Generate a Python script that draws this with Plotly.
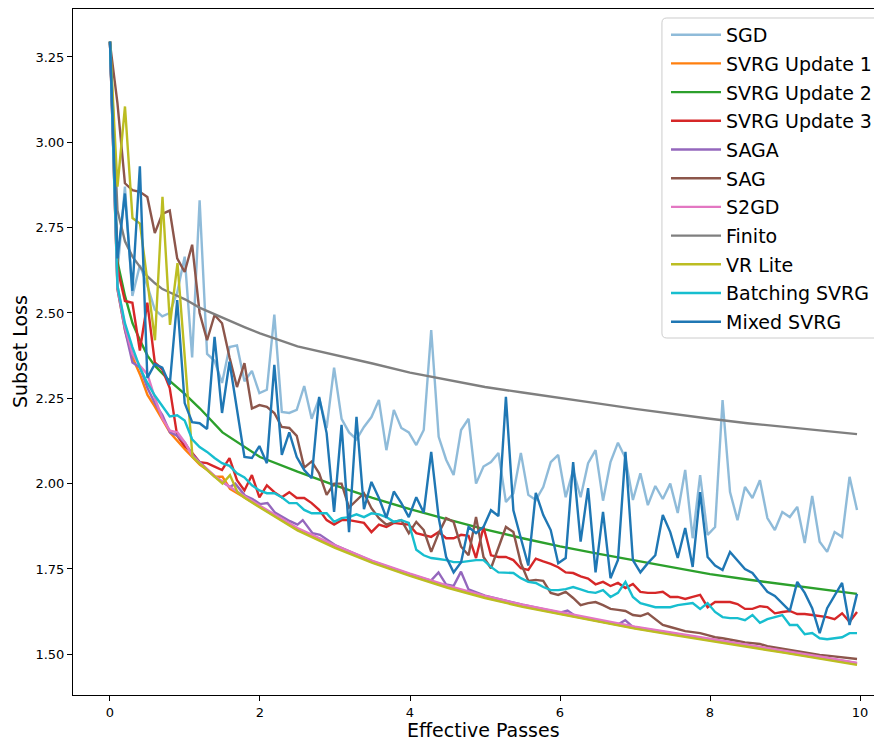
import plotly.graph_objects as go

# ---- shared x grid (effective passes) for the sampled series ----
passes = [round(i * 0.0996, 4) for i in range(101)]

sgd = [3.295, 2.62, 2.87, 2.55, 2.64, 2.58, 2.51, 2.49, 2.50, 2.56,
       2.665, 2.37, 2.83, 2.38, 2.36, 2.295, 2.40, 2.405, 2.30, 2.33,
       2.265, 2.275, 2.495, 2.21, 2.207, 2.216, 2.286, 2.19, 2.25, 2.163,
       2.34, 2.19, 2.15, 2.13, 2.166, 2.195, 2.245, 2.098, 2.216, 2.163,
       2.15, 2.113, 2.157, 2.45, 2.137, 2.07, 2.025, 2.157, 2.19, 2.0,
       2.05, 2.063, 2.09, 1.946, 1.972, 2.09, 1.967, 1.952, 1.99, 2.063,
       2.084, 1.96, 2.04, 1.96, 2.06, 2.098, 1.95, 2.063, 2.12, 2.075,
       1.952, 2.03, 1.937, 1.993, 1.955, 2.0, 1.914, 2.04, 1.84, 2.025,
       1.85, 1.873, 2.245, 1.975, 1.893, 1.99, 1.958, 2.01, 1.899, 1.864,
       1.917, 1.902, 1.932, 1.826, 1.964, 1.83, 1.80, 1.858, 1.844, 2.02,
       1.923]

svrg3 = [3.295, 2.63, 2.535, 2.53, 2.39, 2.53, 2.355, 2.335, 2.28, 2.14,
         2.11, 2.09, 2.063, 2.06, 2.05, 2.04, 2.075, 2.01, 1.98, 2.025,
         1.96, 1.995, 1.975, 1.96, 1.975, 1.958, 1.958, 1.943, 1.923, 1.893,
         1.88, 1.893, 1.893, 1.888, 1.885, 1.858, 1.88, 1.873, 1.885, 1.882,
         1.88, 1.855, 1.85, 1.844, 1.858, 1.84, 1.84, 1.85, 1.847, 1.782,
         1.873, 1.79, 1.785, 1.785, 1.776, 1.752, 1.747, 1.78, 1.772, 1.765,
         1.755, 1.74, 1.738, 1.728, 1.722, 1.705, 1.712, 1.70, 1.709, 1.694,
         1.706, 1.683, 1.68, 1.68, 1.683, 1.668, 1.668, 1.662, 1.668, 1.674,
         1.638, 1.653, 1.653, 1.653, 1.647, 1.633, 1.633, 1.641, 1.638, 1.62,
         1.624, 1.627, 1.618, 1.618, 1.615, 1.612, 1.609, 1.603, 1.62, 1.595,
         1.624]

sag = [3.29, 3.115, 2.88, 2.86, 2.855, 2.84, 2.734, 2.79, 2.80, 2.66,
       2.62, 2.70, 2.50, 2.42, 2.494, 2.47, 2.37, 2.283, 2.353, 2.22,
       2.23, 2.225, 2.207, 2.166, 2.163, 2.14, 2.047, 2.065, 2.03, 1.967,
       2.0, 2.0, 1.93, 1.95, 1.972, 1.928, 1.899, 1.88, 1.888, 1.893,
       1.855, 1.888, 1.864, 1.80, 1.855, 1.899, 1.888, 1.815, 1.79, 1.902,
       1.785, 1.752, 1.815, 1.873, 1.858, 1.767, 1.715, 1.718, 1.715, 1.68,
       1.674, 1.683, 1.665, 1.644, 1.65, 1.653, 1.644, 1.633, 1.63, 1.627,
       1.615, 1.612, 1.62, 1.603, 1.586, 1.58, 1.574, 1.568, 1.565, 1.562,
       1.556, 1.55, 1.547, 1.544, 1.539, 1.535, 1.533, 1.53, 1.524, 1.52,
       1.516, 1.512, 1.508, 1.505, 1.502, 1.498, 1.496, 1.493, 1.49, 1.488,
       1.486]

batching = [3.295, 2.58, 2.47, 2.40, 2.34, 2.295, 2.258, 2.228, 2.197, 2.20,
            2.185, 2.13, 2.107, 2.093, 2.075, 2.06, 2.052, 2.03, 2.018, 1.995,
            1.98, 1.972, 1.972, 1.96, 1.943, 1.943, 1.923, 1.913, 1.913, 1.913,
            1.888, 1.899, 1.902, 1.91, 1.902, 1.913, 1.91, 1.902, 1.888, 1.893,
            1.885, 1.806, 1.79, 1.782, 1.779, 1.776, 1.77, 1.77, 1.773, 1.776,
            1.776, 1.756, 1.74, 1.738, 1.738, 1.723, 1.712, 1.709, 1.697, 1.688,
            1.688, 1.691, 1.697, 1.69, 1.683, 1.68, 1.688, 1.668, 1.68, 1.712,
            1.668, 1.65, 1.644, 1.638, 1.638, 1.638, 1.644, 1.647, 1.65, 1.633,
            1.65, 1.624, 1.609, 1.606, 1.606, 1.60, 1.615, 1.592, 1.603, 1.609,
            1.615, 1.586, 1.586, 1.559, 1.562, 1.547, 1.544, 1.547, 1.55, 1.562,
            1.562]

mixed = [3.295, 2.66, 2.85, 2.565, 2.93, 2.31, 2.35, 2.34, 2.29, 2.538,
         2.236, 2.18, 2.177, 2.16, 2.43, 2.207, 2.357, 2.22, 2.078, 2.075,
         2.11, 2.06, 2.348, 2.084, 2.15, 2.078, 2.04, 2.016, 2.254, 2.148,
         1.917, 2.172, 1.858, 2.196, 1.925, 2.005, 1.958, 1.90, 1.977, 1.943,
         1.902, 1.96, 1.915, 2.093, 1.90, 1.785, 1.74, 1.77, 1.873, 1.855,
         1.873, 1.922, 1.905, 2.254, 1.922, 1.84, 1.76, 1.973, 1.908, 1.864,
         1.767, 1.782, 2.063, 1.83, 1.987, 1.74, 1.917, 1.723, 1.776, 2.093,
         1.776, 1.74, 1.767, 1.79, 1.908, 1.858, 1.782, 1.87, 1.756, 1.975,
         1.785, 1.76, 1.747, 1.80, 1.776, 1.75, 1.738, 1.712, 1.683, 1.671,
         1.65, 1.627, 1.712, 1.68, 1.635, 1.562, 1.635, 1.674, 1.709, 1.586,
         1.677]

# ---- smooth series (own sample points) ----
svrg1_x = [0, 0.1, 0.2, 0.3, 0.4, 0.5, 0.6, 0.8, 1.0, 1.2, 1.3, 1.4, 1.5, 1.6,
           2.0, 2.5, 3.0, 3.5, 4.0, 4.5, 5.0, 5.5, 6.0, 6.5, 7.0, 7.5, 8.0,
           8.5, 9.0, 9.5, 9.96]
svrg1_y = [3.295, 2.57, 2.45, 2.37, 2.32, 2.26, 2.225, 2.15, 2.10, 2.055, 2.04,
           2.02, 2.02, 1.985, 1.932, 1.866, 1.815, 1.77, 1.732, 1.697, 1.667,
           1.641, 1.619, 1.597, 1.577, 1.559, 1.542, 1.524, 1.506, 1.488, 1.471]

svrg2_x = [0, 0.1, 0.2, 0.3, 0.4, 0.5, 0.6, 0.8, 1.0, 1.2, 1.5, 2.0, 2.5, 3.0,
           3.5, 4.0, 4.5, 5.0, 5.5, 6.0, 6.5, 7.0, 7.5, 8.0, 8.5, 9.0, 9.5, 9.96]
svrg2_y = [3.295, 2.65, 2.55, 2.47, 2.42, 2.375, 2.345, 2.30, 2.262, 2.22,
           2.15, 2.078, 2.035, 1.995, 1.958, 1.925, 1.895, 1.866, 1.84, 1.816,
           1.795, 1.775, 1.755, 1.735, 1.719, 1.704, 1.69, 1.677]

saga_x = [0, 0.1, 0.2, 0.3, 0.4, 0.5, 0.6, 0.7, 0.8, 0.9, 1.0, 1.1, 1.2, 1.3,
          1.4, 1.5, 1.6, 1.67, 1.8, 1.9, 2.0, 2.1, 2.2, 2.4, 2.5, 2.57, 2.7,
          2.8, 2.9, 3.0, 3.5, 4.0, 4.28, 4.38, 4.48, 4.58, 4.68, 4.78, 5.0,
          5.5, 6.0, 6.1, 6.2, 6.5, 6.77, 6.87, 6.97, 7.5, 8.0, 8.5, 9.0, 9.5,
          9.96]
saga_y = [3.295, 2.57, 2.45, 2.355, 2.34, 2.28, 2.235, 2.20, 2.15, 2.14, 2.12,
          2.085, 2.062, 2.04, 2.02, 2.005, 1.99, 2.0, 1.965, 1.955, 1.94, 1.943,
          1.915, 1.89, 1.88, 1.893, 1.855, 1.85, 1.835, 1.82, 1.772, 1.734,
          1.716, 1.74, 1.705, 1.70, 1.742, 1.69, 1.672, 1.645, 1.622, 1.628,
          1.613, 1.598, 1.587, 1.60, 1.58, 1.561, 1.545, 1.527, 1.508, 1.49,
          1.474]

s2gd_x = [0, 0.1, 0.2, 0.3, 0.4, 0.5, 0.6, 0.7, 0.8, 0.9, 1.0, 1.1, 1.2, 1.4,
          1.6, 2.0, 2.5, 3.0, 3.5, 4.0, 4.5, 5.0, 5.5, 6.0, 6.5, 7.0, 7.5,
          8.0, 8.5, 9.0, 9.5, 9.96]
s2gd_y = [3.295, 2.58, 2.46, 2.38, 2.345, 2.32, 2.25, 2.19, 2.155, 2.15, 2.12,
          2.08, 2.06, 2.022, 1.99, 1.935, 1.87, 1.819, 1.774, 1.736, 1.701,
          1.671, 1.645, 1.623, 1.601, 1.581, 1.563, 1.546, 1.528, 1.51, 1.492,
          1.475]

finito_x = [0, 0.1, 0.2, 0.3, 0.4, 0.5, 0.6, 0.7, 0.8, 1.0, 1.2, 1.4, 1.6,
            1.8, 2.0, 2.5, 3.0, 3.5, 4.0, 4.5, 5.0, 5.5, 6.0, 6.5, 7.0, 7.5,
            8.0, 8.5, 9.0, 9.5, 9.96]
finito_y = [3.295, 2.80, 2.71, 2.665, 2.635, 2.607, 2.587, 2.57, 2.56, 2.54,
            2.515, 2.495, 2.477, 2.458, 2.44, 2.402, 2.378, 2.352, 2.325, 2.303,
            2.283, 2.267, 2.25, 2.235, 2.219, 2.204, 2.19, 2.177, 2.166, 2.156,
            2.145]

vrlite_x = [0, 0.1, 0.2, 0.3, 0.4, 0.5, 0.6, 0.7, 0.8, 0.9, 1.0, 1.1, 1.2,
            1.3, 1.4, 1.5, 1.6, 1.7, 1.8, 2.0, 2.5, 3.0, 3.5, 4.0, 4.5, 5.0,
            5.5, 6.0, 6.5, 7.0, 7.5, 8.0, 8.5, 9.0, 9.5, 9.96]
vrlite_y = [3.295, 2.87, 3.105, 2.778, 2.762, 2.59, 2.42, 2.84, 2.465, 2.646,
            2.36, 2.078, 2.058, 2.038, 2.018, 2.0, 2.025, 1.975, 1.958, 1.93,
            1.863, 1.812, 1.768, 1.73, 1.695, 1.665, 1.639, 1.617, 1.595, 1.575,
            1.557, 1.54, 1.522, 1.504, 1.486, 1.469]

series = [
    ("SGD", passes, sgd, "rgba(31,119,180,0.5)"),
    ("SVRG Update 1", svrg1_x, svrg1_y, "#ff7f0e"),
    ("SVRG Update 2", svrg2_x, svrg2_y, "#2ca02c"),
    ("SVRG Update 3", passes, svrg3, "#d62728"),
    ("SAGA", saga_x, saga_y, "#9467bd"),
    ("SAG", passes, sag, "#8c564b"),
    ("S2GD", s2gd_x, s2gd_y, "#e377c2"),
    ("Finito", finito_x, finito_y, "#7f7f7f"),
    ("VR Lite", vrlite_x, vrlite_y, "#bcbd22"),
    ("Batching SVRG", passes, batching, "#17becf"),
    ("Mixed SVRG", passes, mixed, "#1f77b4"),
]

fig = go.Figure()
for name, xs, ys, col in series:
    fig.add_trace(go.Scatter(x=xs, y=ys, name=name, mode="lines",
                             legendgroup=name,
                             line=dict(color=col, width=2.4)))

font = "DejaVu Sans, Arial, sans-serif"

# legend frame (matplotlib style, rounded corners), drawn above the lines
x0, x1, y0, y1, r = 0.728, 1.03, 0.5204, 0.9869, 0.006
ry = r * 809 / 686
frame = (f"M {x0 + r},{y1} L {x1},{y1} L {x1},{y0} L {x0 + r},{y0} "
         f"Q {x0},{y0} {x0},{y0 + ry} L {x0},{y1 - ry} Q {x0},{y1} {x0 + r},{y1} Z")

# The page body adds an 8px margin, so the figure is 8px smaller on each
# axis and its margins are shifted to land the plot where the reference has it.
fig.update_layout(
    width=874, height=732,
    margin=dict(l=65, r=0, t=1, b=45, autoexpand=False),
    paper_bgcolor="white", plot_bgcolor="white",
    font=dict(family=font, color="black", size=13),
    showlegend=True,
    legend=dict(x=0.733, y=0.990, xanchor="left", yanchor="top",
                bgcolor="rgba(0,0,0,0)", borderwidth=0,
                font=dict(size=19, family=font),
                itemwidth=50, tracegroupgap=1),
    shapes=[dict(type="path", path=frame, xref="paper", yref="paper",
                 line=dict(color="#cccccc", width=1),
                 fillcolor="rgba(255,255,255,0.8)", layer="above")],
    xaxis=dict(range=[-0.493, 10.293], tickvals=[0, 2, 4, 6, 8, 10],
               showgrid=False, zeroline=False, showline=True,
               linecolor="black", linewidth=1, mirror=True, automargin=False,
               ticks="outside", ticklen=5, tickwidth=1, tickcolor="black",
               tickfont=dict(size=13)),
    yaxis=dict(range=[1.3807, 3.3906], tick0=1.5, dtick=0.25,
               tickformat=".2f", showgrid=False, zeroline=False,
               showline=True, linecolor="black", linewidth=1, automargin=False,
               ticks="outside", ticklen=5, tickwidth=1, tickcolor="black",
               tickfont=dict(size=13)),
    annotations=[
        dict(text="Effective Passes", xref="paper", yref="paper",
             x=0.5068, y=0, xanchor="center", yanchor="top", yshift=-22,
             showarrow=False, font=dict(size=19, family=font)),
        dict(text="Subset Loss", xref="paper", yref="paper",
             x=-0.0655, y=0.5, xanchor="center", yanchor="middle",
             textangle=-90, showarrow=False, font=dict(size=19, family=font)),
    ],
)

fig.write_html("out.html")
